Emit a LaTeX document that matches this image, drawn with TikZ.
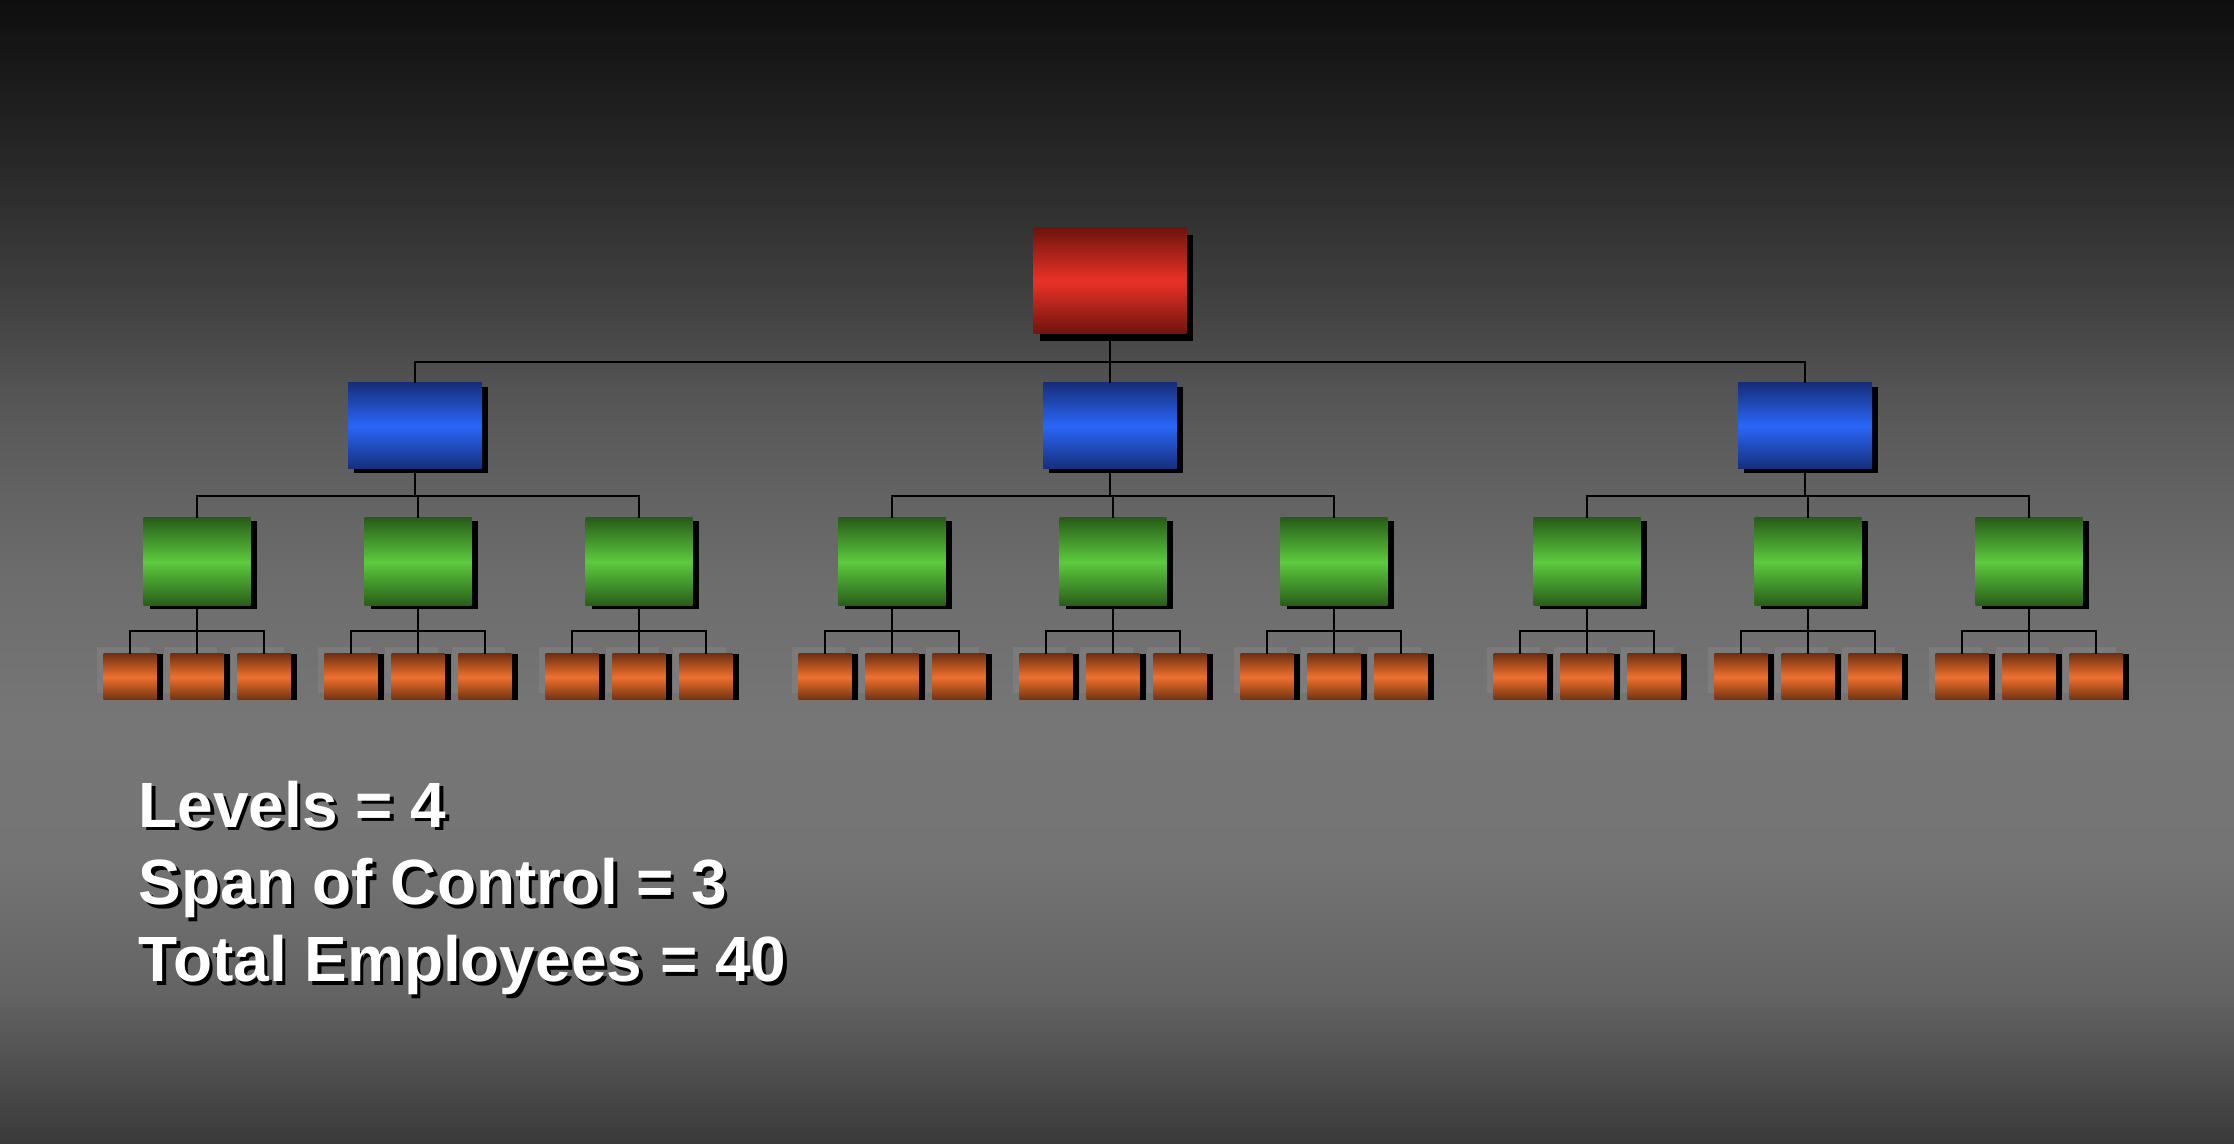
\documentclass[tikz,border=0pt]{standalone}
\usepackage{fontspec}
\usetikzlibrary{positioning}
\usetikzlibrary{shadows}
\newfontfamily\statfont{Liberation Sans}

\definecolor{bossdark}{RGB}{110,20,14}
\definecolor{bosslight}{RGB}{234,50,38}
\definecolor{deptdark}{RGB}{22,46,122}
\definecolor{deptlight}{RGB}{42,102,248}
\definecolor{teamdark}{RGB}{40,92,24}
\definecolor{teamlight}{RGB}{92,202,62}
\definecolor{staffdark}{RGB}{112,50,16}
\definecolor{stafflight}{RGB}{238,112,48}

\pgfdeclareverticalshading{slideshade}{100bp}{
  rgb(0bp)=(0.227,0.227,0.227); rgb(25bp)=(0.227,0.227,0.227);
  rgb(31.5bp)=(0.388,0.388,0.388); rgb(37.5bp)=(0.455,0.455,0.455);
  rgb(43.5bp)=(0.463,0.463,0.463); rgb(50bp)=(0.424,0.424,0.424);
  rgb(56.5bp)=(0.353,0.353,0.353); rgb(62.5bp)=(0.243,0.243,0.243);
  rgb(69bp)=(0.141,0.141,0.141); rgb(75bp)=(0.055,0.055,0.055);
  rgb(100bp)=(0.055,0.055,0.055)}

\begin{document}
\begin{tikzpicture}[auto,
	box/.style={rectangle,inner sep=0pt,outer sep=0pt},
	top node/.style={box,minimum width=1.53cm,minimum height=1.06cm,
		top color=bossdark,bottom color=bossdark,middle color=bosslight,
		drop shadow={shadow xshift=0.06cm,shadow yshift=-0.07cm,fill=black,opacity=1}},
	mid node/.style={box,minimum width=1.34cm,minimum height=0.86cm,
		top color=deptdark,bottom color=deptdark,middle color=deptlight,
		drop shadow={shadow xshift=0.06cm,shadow yshift=-0.04cm,fill=black,opacity=1}},
	team node/.style={box,minimum width=1.07cm,minimum height=0.88cm,
		top color=teamdark,bottom color=teamdark,middle color=teamlight,
		drop shadow={shadow xshift=0.06cm,shadow yshift=-0.035cm,fill=black,opacity=1}},
	staff node/.style={box,minimum width=0.53cm,minimum height=0.46cm,
		top color=staffdark,bottom color=staffdark,middle color=stafflight,
		general shadow={shadow xshift=-0.07cm,shadow yshift=0.07cm,fill=white,fill opacity=0.07},
		drop shadow={shadow xshift=0.06cm,shadow yshift=0cm,fill=black,opacity=1}},
	tree line/.style={draw=black,line width=0.75pt},
	stat text/.style={anchor=base west,inner sep=0pt,align=left,
		font=\statfont\bfseries\fontsize{18.2}{22}\selectfont}]

	% slide background
	\shade[shading=slideshade] (0,0) rectangle (22.34,11.44);
	\useasboundingbox (0,0) rectangle (22.34,11.44);

	\node[top node] (boss) at (11.10,8.63) {};
	\node[mid node] (d2) [below of=boss,node distance=1.45cm] {};
	\node[mid node] (d1) [left of=d2,node distance=6.95cm] {};
	\node[mid node] (d3) [right of=d2,node distance=6.95cm] {};

	\foreach \d in {1,2,3} {
		\node[team node] (t\d b) [below of=d\d,node distance=1.36cm,xshift=0.03cm] {};
		\node[team node] (t\d a) [left of=t\d b,node distance=2.21cm] {};
		\node[team node] (t\d c) [right of=t\d b,node distance=2.21cm] {};
	}
	\foreach \d in {1,2,3}
	\foreach \t in {a,b,c} {
		\node[staff node] (s\d\t2) [below of=t\d\t,node distance=1.15cm] {};
		\node[staff node] (s\d\t1) [left of=s\d\t2,node distance=0.67cm] {};
		\node[staff node] (s\d\t3) [right of=s\d\t2,node distance=0.67cm] {};
	}

	% connectors
	\foreach \d in {1,2,3}
		\draw[tree line] (boss.south) -- ++(0,-0.28) -| (d\d.north);
	\foreach \d in {1,2,3}
	\foreach \t in {a,b,c} {
		\draw[tree line] (d\d.south) -- ++(0,-0.27) -| (t\d\t.north);
		\foreach \s in {1,2,3}
			\draw[tree line] (t\d\t.south) -- ++(0,-0.25) -| (s\d\t\s.north);
	}

	\node[stat text,black] (statshadow) at (1.415,1.585)
		{Levels = 4\\Span of Control = 3\\Total Employees = 40};
	\node[stat text,white] (stats) at (1.38,1.62)
		{Levels = 4\\Span of Control = 3\\Total Employees = 40};
\end{tikzpicture}
\end{document}
